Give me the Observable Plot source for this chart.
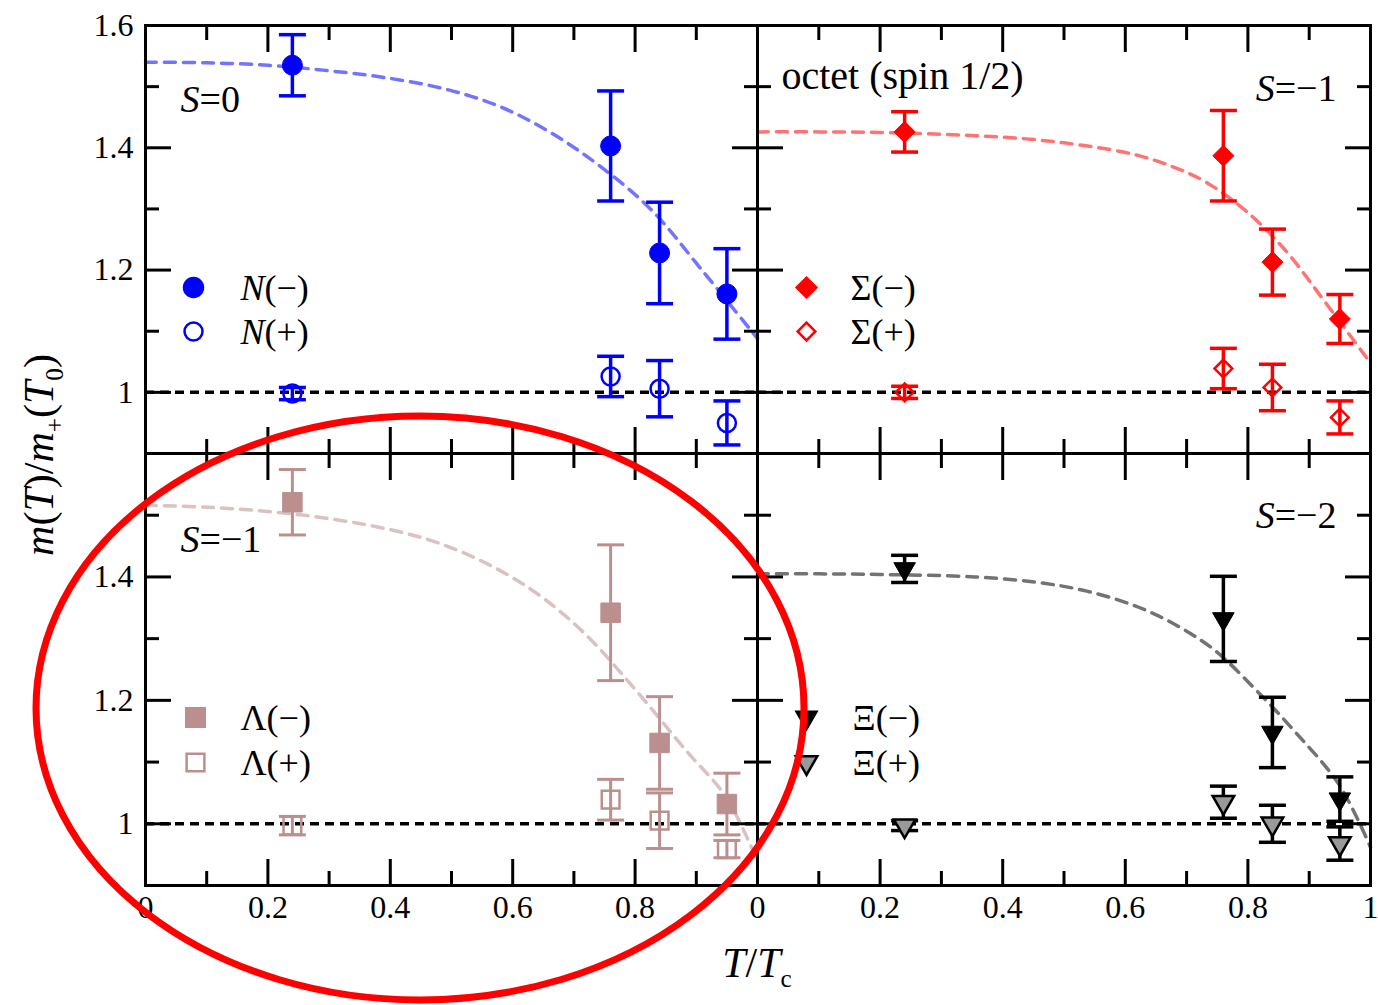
<!DOCTYPE html>
<html><head><meta charset="utf-8">
<script src="https://cdn.jsdelivr.net/npm/d3@7"></script>
<script src="https://cdn.jsdelivr.net/npm/@observablehq/plot@0.6"></script>
<style>
body{margin:0;background:#fff;}
#wrap{position:relative;width:1378px;height:1005px;font-family:"Liberation Serif",serif;color:#000;}
#wrap svg{position:absolute;left:0;top:0;}
.ttl{position:absolute;white-space:nowrap;font-family:"Liberation Serif",serif;}
.ttl sub{font-size:0.6em;}
</style></head><body><div id="wrap"></div>
<script>
// ---- data ----
const T = [0.24, 0.76, 0.84, 0.95];
// Nucleon (S=0)
const nMinus = [1.535, 1.403, 1.228, 1.161];
const nMinusErr = [0.050, 0.090, 0.083, 0.074];
const nPlus = [0.998, 1.026, 1.006, 0.950];
const nPlusErr = [0.010, 0.033, 0.046, 0.036];
const nCurveT = [0, 0.1, 0.2, 0.29, 0.39, 0.49, 0.58, 0.66, 0.74, 0.825, 0.91, 1.0];
const nCurveV = [1.540, 1.539, 1.535, 1.527, 1.515, 1.496, 1.467, 1.426, 1.372, 1.300, 1.199, 1.088];
// Sigma (S=-1)
const sMinus = [1.426, 1.387, 1.213, 1.120];
const sMinusErr = [0.033, 0.074, 0.054, 0.040];
const sPlus = [1.000, 1.039, 1.008, 0.959];
const sPlusErr = [0.010, 0.033, 0.038, 0.027];
const sCurveT = [0, 0.1, 0.2, 0.35, 0.445, 0.53, 0.615, 0.68, 0.733, 0.8, 0.864, 0.916, 1.0];
const sCurveV = [1.426, 1.426, 1.425, 1.420, 1.414, 1.404, 1.389, 1.368, 1.343, 1.294, 1.229, 1.161, 1.048];
// Lambda (S=-1)
const lMinus = [1.521, 1.342, 1.131, 1.032];
const lMinusErr = [0.053, 0.110, 0.075, 0.050];
const lPlus = [0.997, 1.039, 1.005, 0.959];
const lPlusErr = [0.015, 0.033, 0.045, 0.014];
const lCurveT = [0, 0.1, 0.2, 0.289, 0.379, 0.47, 0.561, 0.644, 0.722, 0.799, 0.883, 0.948, 1.0];
const lCurveV = [1.516, 1.513, 1.506, 1.496, 1.481, 1.458, 1.420, 1.370, 1.304, 1.219, 1.119, 1.044, 0.940];
// Xi (S=-2)
const xMinus = [1.413, 1.332, 1.148, 1.040];
const xMinusErr = [0.022, 0.069, 0.057, 0.036];
const xPlus = [0.997, 1.035, 1.000, 0.968];
const xPlusErr = [0.008, 0.026, 0.030, 0.027];
const xCurveT = [0, 0.1, 0.2, 0.354, 0.458, 0.537, 0.616, 0.681, 0.746, 0.812, 0.877, 0.949, 1.0];
const xCurveV = [1.405, 1.405, 1.404, 1.400, 1.391, 1.377, 1.353, 1.323, 1.281, 1.218, 1.149, 1.063, 0.962];
// ticks
const xMajor = [0.2, 0.4, 0.6, 0.8];
const xMinor = [0.1, 0.3, 0.5, 0.7, 0.9];
const yMajor = [1.0, 1.2, 1.4, 1.6];
const yMinor = [0.9, 1.1, 1.3, 1.5];
const xLabelsLeft = [0, 0.2, 0.4, 0.6, 0.8];
const xLabelsRight = [0, 0.2, 0.4, 0.6, 0.8, 1];
const yLabelsTop = [1, 1.2, 1.4, 1.6];
const yLabelsBottom = [1, 1.2, 1.4];

// ---- helpers ----
const W = 1378, H = 1005;
const cap = {draw(ctx, size){ const r = Math.sqrt(size / Math.PI); ctx.moveTo(-r, 0); ctx.lineTo(r, 0); }};
const rows = (vals, errs) => T.map((t, i) => ({t, v: vals[i], lo: vals[i] - errs[i], hi: vals[i] + errs[i]}));
const curveRows = (ts, vs) => ts.map((t, i) => ({t, v: vs[i]}));

function frameMarks(xLab, yLab) {
  const m = [];
  for (const anchor of ["top", "bottom"]) {
    m.push(Plot.axisX({anchor, ticks: xMajor, tickSize: -26, tickFormat: () => "", label: null, strokeWidth: 3}));
    m.push(Plot.axisX({anchor, ticks: xMinor, tickSize: -14, tickFormat: () => "", label: null, strokeWidth: 3}));
  }
  for (const anchor of ["left", "right"]) {
    m.push(Plot.axisY({anchor, ticks: yMajor, tickSize: -26, tickFormat: () => "", label: null, strokeWidth: 3}));
    m.push(Plot.axisY({anchor, ticks: yMinor, tickSize: -14, tickFormat: () => "", label: null, strokeWidth: 3}));
  }
  if (xLab) m.push(Plot.axisX({anchor: "bottom", ticks: xLab, tickSize: 0, tickPadding: 10, tickFormat: d => String(d), label: null, fontSize: 32}));
  if (yLab) m.push(Plot.axisY({anchor: "left", ticks: yLab, tickSize: 0, tickPadding: 12, tickFormat: d => String(d), label: null, fontSize: 32}));
  m.push(Plot.frame({stroke: "black", strokeWidth: 3}));
  return m;
}

function panel(o) {
  const minusRows = rows(o.minus, o.minusErr);
  const plusRows = rows(o.plus, o.plusErr);
  const marks = [];
  marks.push(Plot.ruleY([1], {stroke: "black", strokeWidth: 3.5, strokeDasharray: "9,6"}));
  marks.push(Plot.line(curveRows(o.curveT, o.curveV), {x: "t", y: "v", curve: "catmull-rom", stroke: o.color, strokeOpacity: 0.55, strokeWidth: 3.5, strokeDasharray: "11,8"}));
  for (const r of [minusRows, plusRows]) {
    marks.push(Plot.ruleX(r, {x: "t", y1: "lo", y2: "hi", stroke: o.color, strokeWidth: o.barWidth}));
    marks.push(Plot.dot(r, {x: "t", y: "lo", symbol: cap, r: 13.5, fill: "none", stroke: o.color, strokeWidth: o.barWidth}));
    marks.push(Plot.dot(r, {x: "t", y: "hi", symbol: cap, r: 13.5, fill: "none", stroke: o.color, strokeWidth: o.barWidth}));
  }
  marks.push(Plot.dot(minusRows, {x: "t", y: "v", symbol: o.sym, r: o.rMinus, fill: o.color, stroke: o.color, strokeWidth: 1, rotate: o.rotate}));
  marks.push(Plot.dot(plusRows, {x: "t", y: "v", symbol: o.sym, r: o.rPlus, fill: o.plusFill, stroke: o.color, strokeWidth: 2.5, rotate: o.rotate}));
  // legend
  marks.push(Plot.dot([0], {frameAnchor: "top-left", dx: o.legX, dy: o.legY[0], symbol: o.sym, r: o.rMinus, fill: o.color, stroke: o.color, rotate: o.rotate}));
  marks.push(Plot.dot([0], {frameAnchor: "top-left", dx: o.legX, dy: o.legY[1], symbol: o.sym, r: o.rPlus, fill: o.plusFill, stroke: o.color, strokeWidth: 2.5, rotate: o.rotate}));
  marks.push(Plot.text([o.names[0]], {frameAnchor: "top-left", dx: o.legTx, dy: o.legY[0] - 13, textAnchor: "start", fontSize: 36}));
  marks.push(Plot.text([o.names[1]], {frameAnchor: "top-left", dx: o.legTx, dy: o.legY[1] - 13, textAnchor: "start", fontSize: 36}));
  for (const t of o.texts) marks.push(Plot.text([t.s], {frameAnchor: t.fa, dx: t.dx, dy: t.dy, textAnchor: t.ta, fontSize: t.fs}));
  marks.push(...frameMarks(o.xLab, o.yLab));
  const svg = Plot.plot({
    width: W, height: H,
    marginLeft: o.ml, marginRight: o.mr, marginTop: o.mt, marginBottom: o.mb,
    x: {domain: [0, 1]}, y: {domain: [0.9, 1.6]},
    style: {background: "transparent", fontFamily: "Liberation Serif, serif", fontSize: "32px", overflow: "visible"},
    marks
  });
  // italic letters for S and N
  const ns = "http://www.w3.org/2000/svg";
  svg.querySelectorAll("text").forEach(t => {
    const m = t.textContent.match(/^([SN])([=(].*)$/);
    if (m && t.children.length === 0) {
      t.textContent = "";
      const a = document.createElementNS(ns, "tspan"); a.setAttribute("font-style", "italic"); a.textContent = m[1];
      const b = document.createElementNS(ns, "tspan"); b.textContent = m[2];
      t.append(a, b);
    }
  });
  return svg;
}

const wrap = document.getElementById("wrap");
const L = 145, M = 757, R = 1370, TOP = 25, MID = 453, BOT = 885;

wrap.append(panel({
  ml: L, mr: W - M, mt: TOP, mb: H - MID, xLab: null, yLab: yLabelsTop,
  color: "#0000ff", barWidth: 3.5, minus: nMinus, minusErr: nMinusErr, plus: nPlus, plusErr: nPlusErr,
  curveT: nCurveT, curveV: nCurveV, sym: "circle", rMinus: 10, rPlus: 9, rotate: 0, plusFill: "none",
  legX: 48, legY: [262, 306], legTx: 95, names: ["N(−)", "N(+)"],
  texts: [{s: "S=0", fa: "top-left", dx: 35, dy: 60, ta: "start", fs: 38}]
}));
wrap.append(panel({
  ml: M, mr: W - R, mt: TOP, mb: H - MID, xLab: null, yLab: null,
  color: "#ff0000", barWidth: 3.5, minus: sMinus, minusErr: sMinusErr, plus: sPlus, plusErr: sPlusErr,
  curveT: sCurveT, curveV: sCurveV, sym: "diamond2", rMinus: 9.5, rPlus: 8, rotate: 0, plusFill: "none",
  legX: 49, legY: [262, 306], legTx: 93, names: ["Σ(−)", "Σ(+)"],
  texts: [{s: "octet (spin 1/2)", fa: "top-left", dx: 24, dy: 35, ta: "start", fs: 40},
          {s: "S=−1", fa: "top-right", dx: -34, dy: 49, ta: "end", fs: 38}]
}));
wrap.append(panel({
  ml: L, mr: W - M, mt: MID, mb: H - BOT, xLab: xLabelsLeft, yLab: yLabelsBottom,
  color: "#bc8f8f", barWidth: 3, minus: lMinus, minusErr: lMinusErr, plus: lPlus, plusErr: lPlusErr,
  curveT: lCurveT, curveV: lCurveV, sym: "square", rMinus: 11, rPlus: 10, rotate: 0, plusFill: "none",
  legX: 50, legY: [264, 309], legTx: 95, names: ["Λ(−)", "Λ(+)"],
  texts: [{s: "S=−1", fa: "top-left", dx: 35, dy: 72, ta: "start", fs: 38}]
}));
wrap.append(panel({
  ml: M, mr: W - R, mt: MID, mb: H - BOT, xLab: xLabelsRight, yLab: null,
  color: "#000000", barWidth: 3.5, minus: xMinus, minusErr: xMinusErr, plus: xPlus, plusErr: xPlusErr,
  curveT: xCurveT, curveV: xCurveV, sym: "triangle", rMinus: 8, rPlus: 8, rotate: 180, plusFill: "#999999",
  legX: 49, legY: [264, 309], legTx: 95, names: ["Ξ(−)", "Ξ(+)"],
  texts: [{s: "S=−2", fa: "top-right", dx: -34, dy: 48, ta: "end", fs: 38}]
}));

// axis titles
const yt = document.createElement("div");
yt.className = "ttl";
yt.style.cssText = "left:42px;top:455px;transform:translate(-50%,-50%) rotate(-90deg);font-size:42px;";
yt.innerHTML = "<i>m</i>(<i>T</i>)/<i>m</i><sub>+</sub>(<i>T</i><sub>0</sub>)";
wrap.append(yt);
const xt = document.createElement("div");
xt.className = "ttl";
xt.style.cssText = "left:757px;top:966px;transform:translate(-50%,-50%);font-size:42px;";
xt.innerHTML = "<i>T</i>/<i>T</i><sub>c</sub>";
wrap.append(xt);

// red hand-drawn ellipse annotation
const ns = "http://www.w3.org/2000/svg";
const ov = document.createElementNS(ns, "svg");
ov.setAttribute("width", W); ov.setAttribute("height", H);
const el = document.createElementNS(ns, "ellipse");
el.setAttribute("cx", 420); el.setAttribute("cy", 708); el.setAttribute("rx", 384); el.setAttribute("ry", 292);
el.setAttribute("fill", "none"); el.setAttribute("stroke", "#ff0000"); el.setAttribute("stroke-width", 7);
ov.append(el);
wrap.append(ov);
</script></body></html>
